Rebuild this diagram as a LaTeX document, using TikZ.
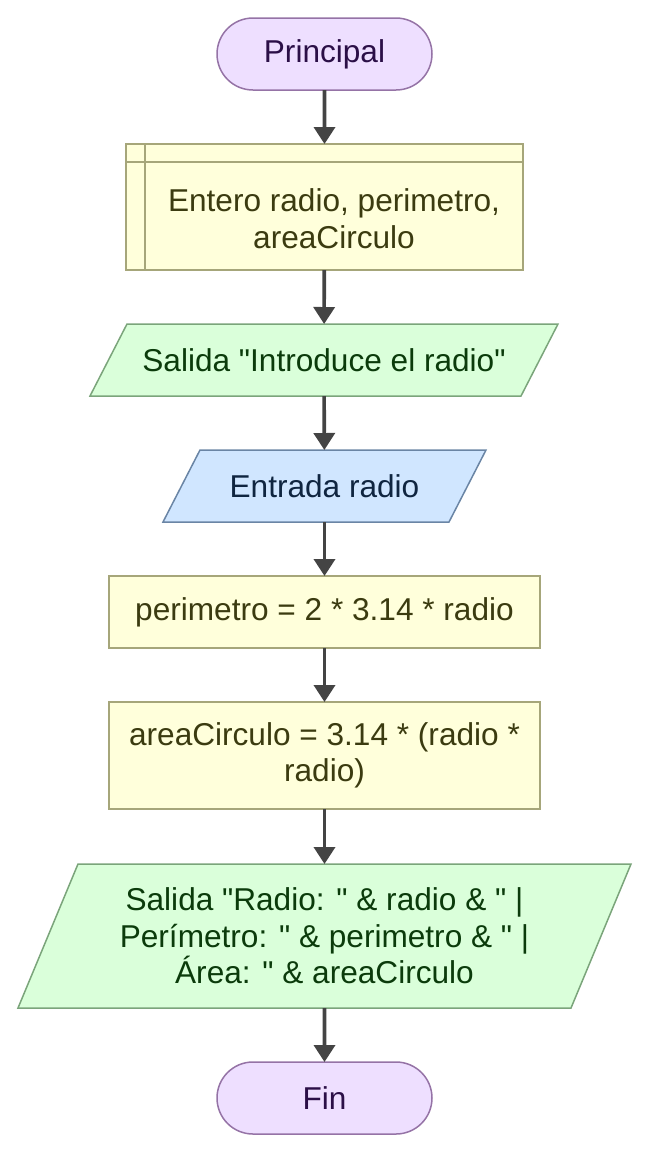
\documentclass[tikz,border=0pt]{standalone}
\usepackage{fontspec}
\newfontfamily\diagfont{Liberation Sans}
\usetikzlibrary{arrows.meta,calc,shapes.misc}
\pgfdeclarelayer{background}
\pgfsetlayers{background,main}
\definecolor{termfill}{HTML}{EEDFFF}
\definecolor{termdraw}{HTML}{9573A6}
\definecolor{termtext}{HTML}{2B0F47}
\definecolor{procfill}{HTML}{FFFFDB}
\definecolor{procdraw}{HTML}{A6A67A}
\definecolor{proctext}{HTML}{3B3B10}
\definecolor{outfill}{HTML}{DAFFDA}
\definecolor{outdraw}{HTML}{7BA57B}
\definecolor{outtext}{HTML}{0B3B0B}
\definecolor{infill}{HTML}{D0E6FF}
\definecolor{indraw}{HTML}{6A85A5}
\definecolor{intext}{HTML}{0F2540}
\definecolor{arrowcol}{HTML}{444444}
\tikzset{
  every node/.style={font=\diagfont\fontsize{15.8}{18.2}\selectfont, align=center, inner sep=0pt, outer sep=0pt},
  termbox/.style={rounded rectangle, draw=termdraw, fill=termfill, text=termtext, line width=0.75pt, minimum width=107.5pt, minimum height=36pt},
  procbox/.style={rectangle, draw=procdraw, fill=procfill, text=proctext, line width=0.75pt},
  ghost/.style={rectangle},
  outshape/.style={draw=outdraw, fill=outfill, line width=0.75pt},
  inshape/.style={draw=indraw, fill=infill, line width=0.75pt},
  flow/.style={draw=arrowcol, line width=1.8pt, -{Triangle[length=8.5pt,width=10.5pt]}}
}
\begin{document}
\begin{tikzpicture}[x=0.5pt,y=-0.5pt]
\useasboundingbox (0,0) rectangle (649,1153);

\node[termbox] (p) at (324.5,54) {Principal};

\node[procbox, minimum width=198.5pt, minimum height=63pt] (d) at (324.5,207) {};
\coordinate (dl1) at ($(d.north west)+(19,0)$);
\coordinate (dl2) at ($(d.south west)+(19,0)$);
\coordinate (dh1) at ($(d.north west)+(0,18)$);
\coordinate (dh2) at ($(d.north east)+(0,18)$);
\draw[procdraw, line width=0.75pt] (dl1) -- (dl2);
\draw[procdraw, line width=0.75pt] (dh1) -- (dh2);
\node[text=proctext] (dt) at (334,218.5) {Entero radio, perimetro,\\areaCirculo};

\node[ghost, text=outtext, minimum width=234pt, minimum height=36pt] (s1) at (324,360) {Salida "Introduce el radio"};
\node[ghost, text=intext, minimum width=161.5pt, minimum height=36pt] (e) at (324.5,486) {Entrada radio};
\node[procbox, minimum width=215.5pt, minimum height=36pt] (a1) at (324.5,612) {perimetro = 2 * 3.14 * radio};
\node[procbox, minimum width=215.5pt, minimum height=53.5pt] (a2) at (324.5,755.5) {areaCirculo = 3.14 * (radio *\\radio)};
\node[ghost, text=outtext, minimum width=306.5pt, minimum height=72pt] (s2) at (324.5,936) {Salida "Radio: " \& radio \& " |\\Perímetro: " \& perimetro \& " |\\Área: " \& areaCirculo};
\node[termbox] (f) at (324.5,1098) {Fin};

\begin{pgfonlayer}{background}
\filldraw[outshape] (s1.south west) -- ($(s1.north west)+(37,0)$) -- (s1.north east) -- ($(s1.south east)+(-37,0)$) -- cycle;
\filldraw[inshape] (e.south west) -- ($(e.north west)+(37,0)$) -- (e.north east) -- ($(e.south east)+(-37,0)$) -- cycle;
\filldraw[outshape] (s2.south west) -- ($(s2.north west)+(60,0)$) -- (s2.north east) -- ($(s2.south east)+(-60,0)$) -- cycle;
\end{pgfonlayer}

\draw[flow] (p) -- (d);
\draw[flow] (d) -- (s1);
\draw[flow] (s1) -- (e);
\draw[flow] (e) -- (a1);
\draw[flow] (a1) -- (a2);
\draw[flow] (a2) -- (s2);
\draw[flow] (s2) -- (f);
\end{tikzpicture}
\end{document}
